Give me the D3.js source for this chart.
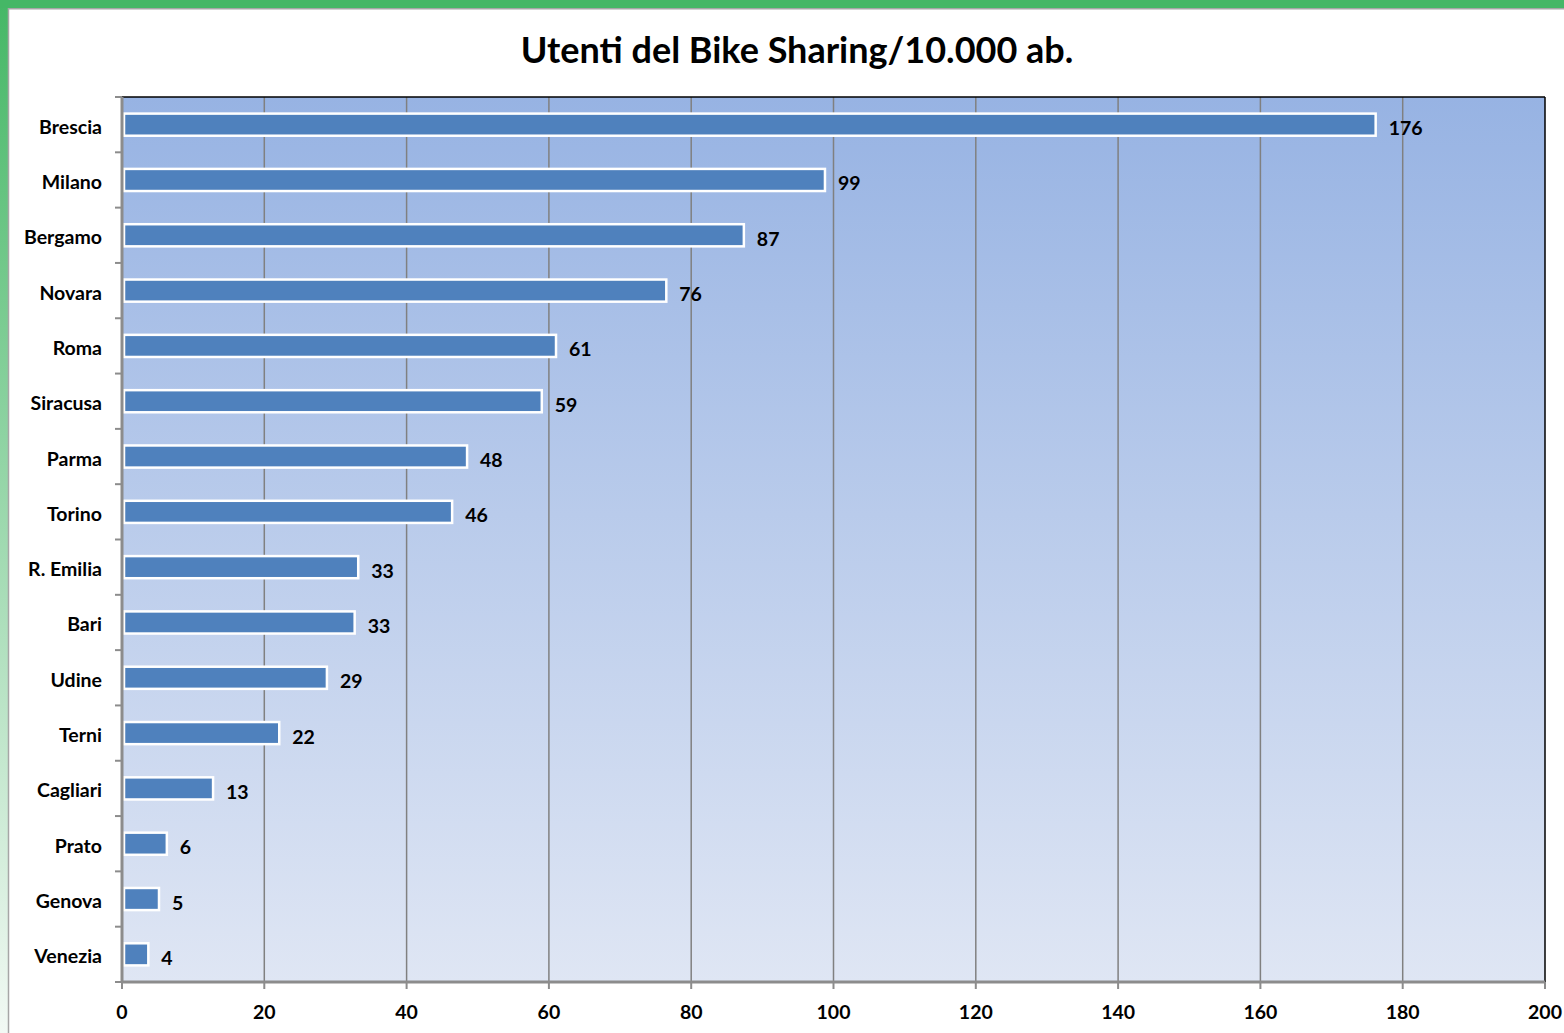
<!DOCTYPE html>
<html>
<head>
<meta charset="utf-8">
<script src="https://cdn.jsdelivr.net/npm/d3@7"></script>
<style>
html,body{margin:0;padding:0;background:#fff;}
svg{display:block;font-family:Lato,"Open Sans",sans-serif;}
</style>
</head>
<body>
<svg id="chart" width="1564" height="1033"></svg>
<script>
const title = "Utenti del Bike Sharing/10.000 ab.";
const categories = ["Brescia","Milano","Bergamo","Novara","Roma","Siracusa","Parma","Torino","R. Emilia","Bari","Udine","Terni","Cagliari","Prato","Genova","Venezia"];
const values = [176.2, 98.8, 87.4, 76.5, 61, 59, 48.5, 46.4, 33.2, 32.7, 28.8, 22.1, 12.8, 6.3, 5.2, 3.7];
const valueLabels = ["176","99","87","76","61","59","48","46","33","33","29","22","13","6","5","4"];
const xTicks = [0,20,40,60,80,100,120,140,160,180,200];

const svg = d3.select("#chart");
const W = 1564, H = 1033;
const pLeft = 122, pRight = 1545, pTop = 97, pBottom = 982;
const FS = 19.5;

const defs = svg.append("defs");
const pg = defs.append("linearGradient").attr("id","plotGrad").attr("x1",0).attr("y1",0).attr("x2",0).attr("y2",1);
pg.append("stop").attr("offset","0%").attr("stop-color","#97B3E3");
pg.append("stop").attr("offset","100%").attr("stop-color","#DFE6F4");
const lg = defs.append("linearGradient").attr("id","leftGrad").attr("x1",0).attr("y1",0).attr("x2",0).attr("y2",1);
lg.append("stop").attr("offset","0%").attr("stop-color","#45B766");
lg.append("stop").attr("offset","100%").attr("stop-color","#F2F9F4");

// frame
svg.append("rect").attr("x",0).attr("y",0).attr("width",8).attr("height",H).attr("fill","url(#leftGrad)");
svg.append("rect").attr("x",0).attr("y",0).attr("width",W).attr("height",8).attr("fill","#45B766");
svg.append("line").attr("x1",8.5).attr("x2",8.5).attr("y1",8).attr("y2",H).attr("stroke","#A6A6A6").attr("stroke-width",1.5);
svg.append("line").attr("x1",8).attr("x2",W).attr("y1",8.75).attr("y2",8.75).attr("stroke","#A6A6A6").attr("stroke-width",1.5);

// title
svg.append("text").attr("x",797).attr("y",63).attr("text-anchor","middle")
  .attr("font-size",36).attr("font-weight","bold").attr("fill","#000").text(title);

const x = d3.scaleLinear().domain([0,200]).range([pLeft,pRight]);
const y = d3.scaleBand().domain(categories).range([pTop,pBottom]).paddingInner(0.6).paddingOuter(0.3);
const yb = d3.scaleBand().domain(categories).range([pTop,pBottom]);

// plot area
svg.append("rect").attr("x",pLeft).attr("y",pTop).attr("width",pRight-pLeft).attr("height",pBottom-pTop).attr("fill","url(#plotGrad)");

// gridlines
svg.append("g").selectAll("line").data(xTicks.slice(1,-1)).join("line")
  .attr("x1",d=>x(d)).attr("x2",d=>x(d)).attr("y1",pTop).attr("y2",pBottom)
  .attr("stroke","#808080").attr("stroke-width",1.5);

// plot border top/right
svg.append("line").attr("x1",pLeft).attr("x2",pRight).attr("y1",pTop).attr("y2",pTop).attr("stroke","#000").attr("stroke-width",1.5);
svg.append("line").attr("x1",pRight).attr("x2",pRight).attr("y1",pTop).attr("y2",pBottom).attr("stroke","#000").attr("stroke-width",1.5);

// bars
const data = categories.map((c,i)=>({c, v: values[i], l: valueLabels[i]}));
svg.append("g").selectAll("rect").data(data).join("rect")
  .attr("x",x(0)+2).attr("y",d=>y(d.c))
  .attr("width",d=>x(d.v)-x(0)-2).attr("height",y.bandwidth())
  .attr("fill","#4F81BD").attr("stroke","#fff").attr("stroke-width",2.5);

// value labels
svg.append("g").selectAll("text").data(data).join("text")
  .attr("x",d=>x(d.v)+13).attr("y",d=>y(d.c)+y.bandwidth()/2+10.5)
  .attr("font-size",FS).attr("font-weight","bold").attr("fill","#000").text(d=>d.l);

// y axis
const yAxis = svg.append("g");
yAxis.append("line").attr("x1",pLeft).attr("x2",pLeft).attr("y1",pTop).attr("y2",pBottom+1).attr("stroke","#8C8C8C").attr("stroke-width",3);
const bounds = categories.map(c=>yb(c)).concat([pBottom]);
yAxis.selectAll("line.t").data(bounds).join("line").attr("class","t")
  .attr("x1",pLeft-7).attr("x2",pLeft).attr("y1",d=>d).attr("y2",d=>d)
  .attr("stroke","#8C8C8C").attr("stroke-width",2);
yAxis.selectAll("text").data(categories).join("text")
  .attr("x",102).attr("y",d=>yb(d)+yb.bandwidth()/2+9)
  .attr("text-anchor","end").attr("font-size",FS).attr("font-weight","bold").attr("fill","#000").text(d=>d);

// x axis
const xAxis = svg.append("g");
xAxis.append("line").attr("x1",pLeft).attr("x2",pRight).attr("y1",pBottom).attr("y2",pBottom).attr("stroke","#8C8C8C").attr("stroke-width",3);
xAxis.selectAll("line.t").data(xTicks).join("line").attr("class","t")
  .attr("x1",d=>x(d)).attr("x2",d=>x(d)).attr("y1",pBottom).attr("y2",pBottom+7)
  .attr("stroke","#8C8C8C").attr("stroke-width",2);
xAxis.selectAll("text").data(xTicks).join("text")
  .attr("x",d=>x(d)).attr("y",1019).attr("text-anchor","middle")
  .attr("font-size",FS).attr("font-weight","bold").attr("fill","#000").text(d=>d);
</script>
</body>
</html>
